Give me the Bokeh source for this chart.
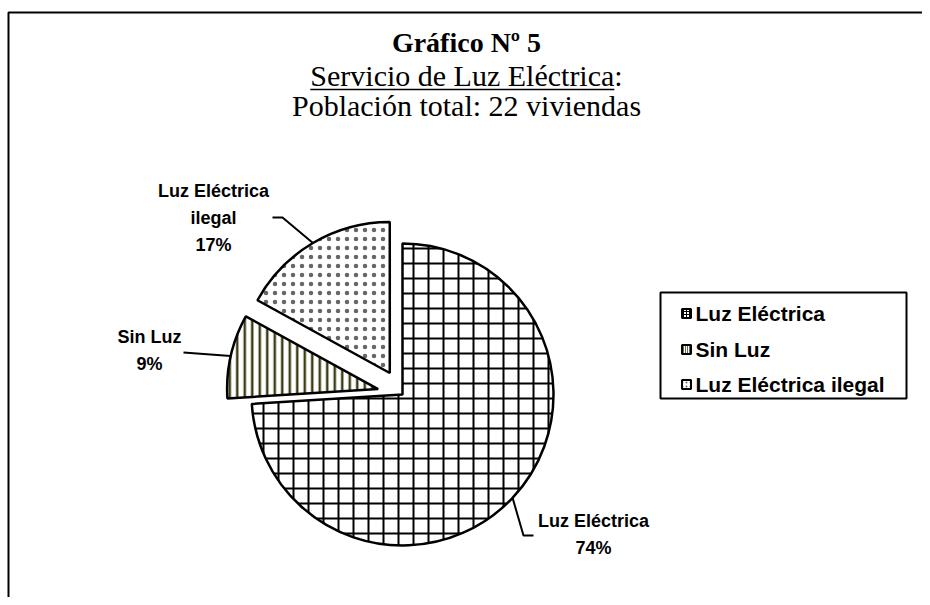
import math
from bokeh.plotting import figure
from bokeh.models import BoxAnnotation, Range1d
from bokeh.core.properties import value
from bokeh.embed import file_html
from bokeh.resources import INLINE

# ---------------- data ----------------
categories = ["Luz Eléctrica", "Sin Luz", "Luz Eléctrica ilegal"]
percents = [74, 9, 17]
pie_labels = ["Luz Eléctrica\n74%", "Sin Luz\n9%", "Luz Eléctrica\nilegal\n17%"]
title_lines = ["Gráfico Nº 5", "Servicio de Luz Eléctrica:", "Población total: 22 viviendas"]

# ---------------- styles / layout ----------------
hatch_patterns = ["cross", "vertical_line", "dot"]
hatch_scales = [15, 7.5, 9]
hatch_weights = [2, 2.5, 0.6]
hatch_colors = ["black", "#3d3d14", "#666666"]
explode = [0, 25, 25]
CX, CY, R = 402, 203, 151

W, H = 922, 597
p = figure(width=W, height=H, output_backend="svg", toolbar_location=None,
           x_range=Range1d(0, W), y_range=Range1d(0, H), min_border=0,
           outline_line_color=None)
p.axis.visible = False
p.grid.visible = False

# outer chart frame
p.add_layout(BoxAnnotation(left=8, right=W + 50, bottom=-50, top=585,
                           fill_color=None, line_color="black", line_alpha=1.0,
                           line_width=2))

# ---------------- pie ----------------
total = sum(percents)
cum = 0.0
arc_pts = []
for i, v in enumerate(percents):
    th_s = cum / total * 360.0
    th_e = (cum + v) / total * 360.0
    cum += v
    th_m = math.radians((th_s + th_e) / 2)
    ox = CX + explode[i] * math.sin(th_m)
    oy = CY + explode[i] * math.cos(th_m)
    p.wedge(x=ox, y=oy, radius=R,
            start_angle=math.radians(90 - th_s), end_angle=math.radians(90 - th_e),
            direction="clock", fill_color="white", line_color="black", line_width=2.5,
            hatch_pattern=hatch_patterns[i], hatch_scale=hatch_scales[i],
            hatch_weight=hatch_weights[i], hatch_color=hatch_colors[i])
    arc_pts.append((ox + R * math.sin(th_m), oy + R * math.cos(th_m)))

# leader lines and data labels
leader_mid = [(523, 62), None, (282, 380)]
leader_end = [(533, 62), (183, 245), (272, 380)]
label_pos = [(593, 63), (149, 247), (213, 380)]
for i in range(len(categories)):
    xs = [arc_pts[i][0]]
    ys = [arc_pts[i][1]]
    if leader_mid[i] is not None:
        xs.append(leader_mid[i][0]); ys.append(leader_mid[i][1])
    xs.append(leader_end[i][0]); ys.append(leader_end[i][1])
    p.line(xs, ys, line_color="black", line_width=2)
p.text(x=[q[0] for q in label_pos], y=[q[1] for q in label_pos], text=pie_labels,
       text_font=value("Liberation Sans"), text_font_style="bold",
       text_font_size="18px", text_align="center", text_baseline="middle",
       text_line_height=1.35, text_color="black")

# ---------------- titles ----------------
TX = 466
p.text(x=[TX], y=[555], text=[title_lines[0]], text_font=value("Liberation Serif"),
       text_font_style="bold", text_font_size="28px", text_align="center",
       text_baseline="middle", text_color="black")
fs = 30
p.text(x=[TX, TX], y=[522, 492], text=title_lines[1:], text_font=value("Liberation Serif"),
       text_font_size=f"{fs}px", text_align="center", text_baseline="middle",
       text_color="black")
# underline under "Servicio de Luz Eléctrica" (colon not underlined)
full_w = 10.414 * fs
ul_w = 10.136 * fs
ul_x0 = TX - full_w / 2
p.line([ul_x0, ul_x0 + ul_w], [508, 508], line_color="black", line_width=1.5)

# ---------------- legend (manual) ----------------
p.add_layout(BoxAnnotation(left=660, right=906, bottom=199, top=305,
                           fill_color=None, line_color="black", line_alpha=1.0,
                           line_width=2))
leg_y = [284, 248, 213]
p.rect(x=[686] * 3, y=leg_y, width=9, height=9, fill_color="white",
       line_color="black", line_width=2,
       hatch_pattern=hatch_patterns, hatch_scale=[3, 2, 4],
       hatch_weight=[1, 1.5, 1], hatch_color=hatch_colors)
p.text(x=[695] * 3, y=leg_y, text=categories, text_font=value("Liberation Sans"),
       text_font_style="bold", text_font_size="21px", text_align="left",
       text_baseline="middle", text_color="black")

open("out.html", "w").write(file_html(p, INLINE))
